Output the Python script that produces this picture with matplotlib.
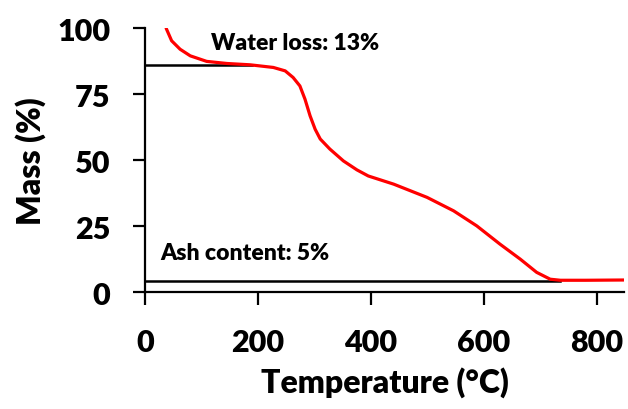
import numpy as np
from matplotlib import pyplot as plt

plt.rcParams['font.family'] = ['Lato', 'DejaVu Sans']
plt.rcParams['font.weight'] = 'heavy'

# TGA curve
temp = [38, 47, 62, 80, 109, 145, 186, 227, 248, 262, 274, 283, 292, 301,
        310, 327, 351, 375, 395, 440, 499, 546, 587, 628, 664, 693, 717,
        735, 780, 846]
mass = [99.6, 95.2, 92, 89.5, 87.4, 86.6, 86.1, 85.1, 83.8, 81.3, 78.1,
        73.1, 66.8, 61.7, 58.0, 54.2, 49.7, 46.3, 44.0, 40.9, 35.9, 30.8,
        25.1, 18.2, 12.5, 7.5, 4.9, 4.5, 4.5, 4.6]

water_level = 86
water_end = 189
ash_level = 4.4
ash_end = 734

fig = plt.figure(figsize=(6.28, 4.10), dpi=100)
ax = fig.add_axes([0.231, 0.285, 0.763, 0.644])

ax.plot([0, water_end], [water_level, water_level], color='black', lw=1.8)
ax.plot([0, ash_end], [ash_level, ash_level], color='black', lw=1.8)
ax.plot(temp, mass, color='red', lw=2.3)

ax.text(117, 94.7, 'Water loss: 13%', fontsize=16.5, fontweight='heavy', va='center')
ax.text(27, 15, 'Ash content: 5%', fontsize=16.5, fontweight='heavy', va='center')

ax.set_xlim(0, 848)
ax.set_ylim(0, 100)
ax.set_xticks([0, 200, 400, 600, 800])
ax.set_yticks([0, 25, 50, 75, 100])
ax.spines['top'].set_visible(False)
ax.spines['right'].set_visible(False)
for s in ['left', 'bottom']:
    ax.spines[s].set_linewidth(1.6)
ax.tick_params(direction='out', length=9, width=1.6, labelsize=22)
ax.tick_params(axis='x', pad=17)
ax.tick_params(axis='y', pad=16)
ax.set_xlabel('Temperature (°C)', fontsize=23, fontweight='heavy', labelpad=7)
ax.set_ylabel('Mass (%)', fontsize=23, fontweight='heavy', labelpad=8)

plt.savefig('out.png', dpi=100)
